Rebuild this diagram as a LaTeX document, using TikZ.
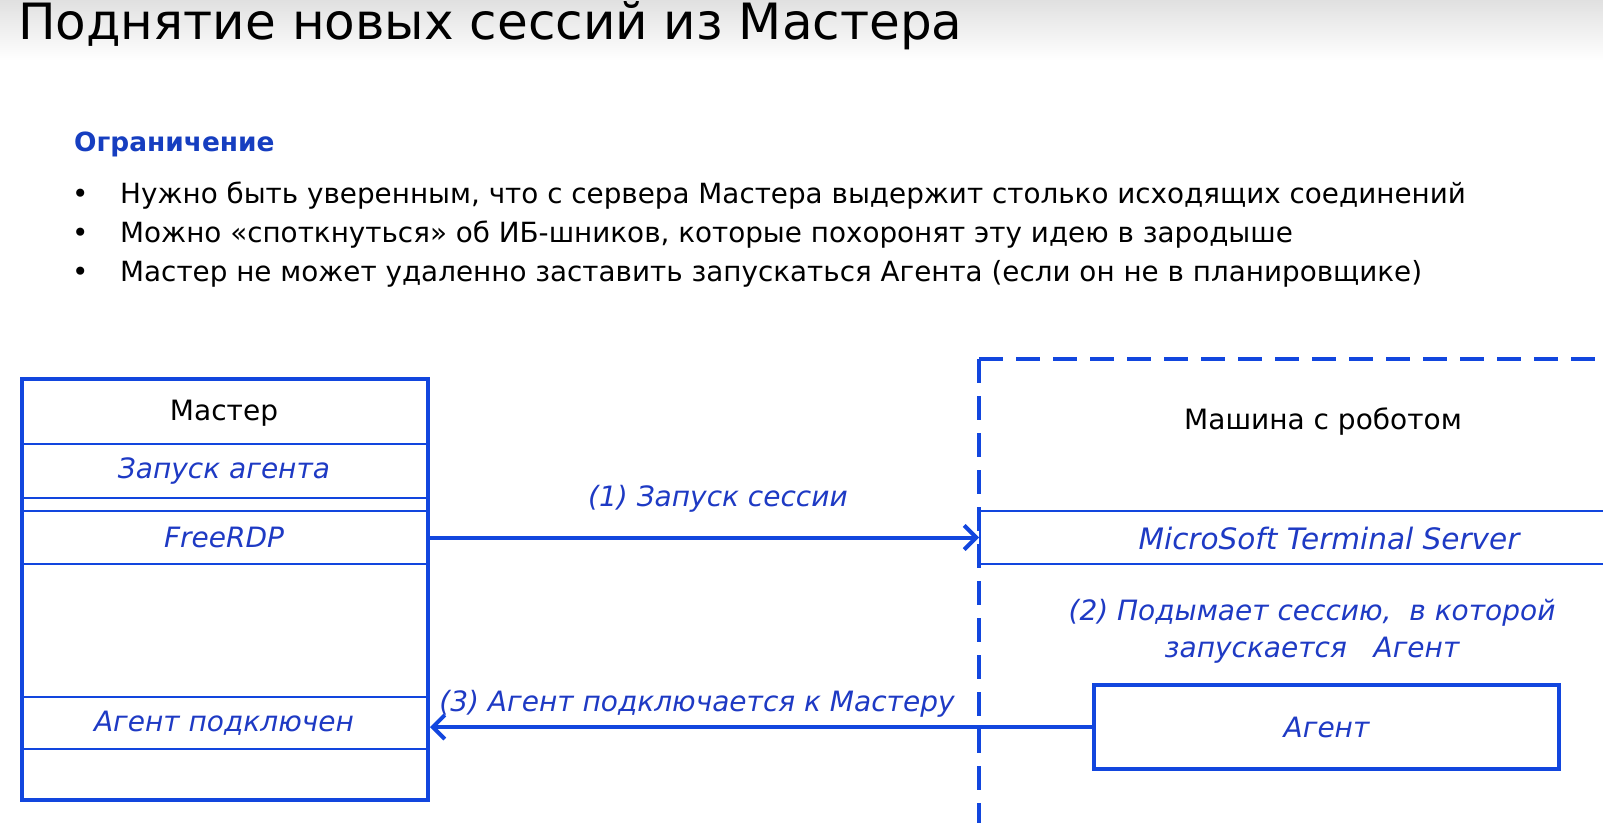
\documentclass[tikz,border=0pt]{standalone}
\usepackage{fontspec}
\setmainfont{DejaVu Sans}
\usetikzlibrary{arrows.meta}
\definecolor{boxblue}{RGB}{18,70,222}
\definecolor{txtblue}{RGB}{30,58,196}
\definecolor{headblue}{RGB}{22,62,192}
\begin{document}
\begin{tikzpicture}[x=1pt,y=-1pt,
  bodytext/.style={font=\fontsize{28}{37}\selectfont, text=black, inner sep=0pt},
  bluetext/.style={font=\fontsize{28}{37}\selectfont\itshape, text=txtblue, inner sep=0pt},
  cell/.style={draw=boxblue, line width=2pt, minimum width=406pt, inner sep=0pt, anchor=north west, bluetext},
  bigbox/.style={draw=boxblue, line width=4pt, inner sep=0pt, anchor=north west},
  dashframe/.style={draw=boxblue, line width=4pt, dash pattern=on 24pt off 13pt},
  arr/.style={draw=boxblue, line width=4pt, -{Straight Barb[length=12pt,width=24pt,line width=4pt]}},
  bullet/.style={font=\fontsize{27.8}{37}\selectfont, text=black, inner sep=0pt, anchor=base west}
]
\useasboundingbox (0,0) rectangle (1603,822);
\clip (0,0) rectangle (1603,822);
\fill[white] (0,0) rectangle (1603,822);
\shade[top color=black!12, bottom color=white] (0,0) rectangle (1603,60);

% title
\node[anchor=base west, inner sep=0pt, font=\fontsize{50}{60}\selectfont] (title) at (18,39) {Поднятие новых сессий из Мастера};

% restriction block
\node[anchor=base west, inner sep=0pt, font=\fontsize{26.4}{37}\selectfont\bfseries, text=headblue] (restr) at (74,151) {Ограничение};
\node[bullet] (b1) at (72,203) {•};
\node[bullet] (t1) at (120,203) {Нужно быть уверенным, что с сервера Мастера выдержит столько исходящих соединений};
\node[bullet] (b2) at (72,242) {•};
\node[bullet] (t2) at (120,242) {Можно «споткнуться» об ИБ-шников, которые похоронят эту идею в зародыше};
\node[bullet] (b3) at (72,281) {•};
\node[bullet] (t3) at (120,281) {Мастер не может удаленно заставить запускаться Агента (если он не в планировщике)};

% master box
\node[cell, minimum height=54pt] (launch) at (20,443) {Запуск агента};
\node[cell, minimum height=53pt] (freerdp) at (20,510) {FreeRDP};
\node[cell, minimum height=52pt] (agentconn) at (20,696) {Агент подключен};
\node[bigbox, minimum width=406pt, minimum height=421pt] (master) at (20,377) {};
\node[bodytext] (mhead) at (224,413) {Мастер};

% robot machine
\draw[dashframe] (979,359) -- (1640,359);
\draw[dashframe] (979,359) -- (979,840);
\node[bodytext] (machine) at (1323,422) {Машина с роботом};
\node[draw=boxblue, line width=2pt, inner sep=0pt, anchor=north west, minimum width=700pt, minimum height=53pt] (mts) at (979,510) {};
\node[bluetext, font=\fontsize{29.5}{37}\selectfont\itshape] (mtslabel) at (1329,538) {MicroSoft Terminal Server};
\node[bluetext, align=center] (step2) at (1312,631) {(2) Подымает сессию,\ \ в которой\\запускается\ \ \ Агент};
\node[bigbox, bluetext, minimum width=465pt, minimum height=84pt] (agent) at (1092,683) {Агент};

% connectors
\draw[arr] (freerdp.east) -- (mts.west);
\node[bluetext] (step1) at (718,499) {(1) Запуск сессии};
\draw[arr] (agent.west) -- (agent.west -| master.east);
\node[bluetext] (step3) at (697,704) {(3) Агент подключается к Мастеру};
\end{tikzpicture}
\end{document}
